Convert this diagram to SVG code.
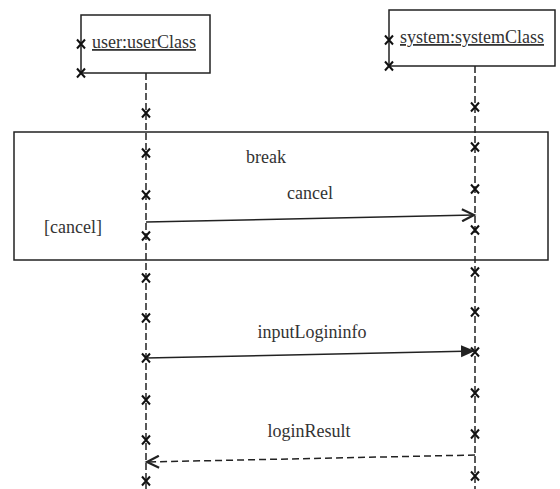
<svg xmlns="http://www.w3.org/2000/svg" xmlns:xlink="http://www.w3.org/1999/xlink" width="560" height="489" viewBox="0 0 560 489">
<style>
.box{fill:#fff;stroke:#222;stroke-width:1.5}
.frag{fill:none;stroke:#222;stroke-width:1.5}
.life{stroke:#222;stroke-width:1.5;stroke-dasharray:7,3;fill:none}
.msg{stroke:#222;stroke-width:1.5;fill:none}
.ret{stroke:#222;stroke-width:1.5;fill:none;stroke-dasharray:7,4}
.t{font-family:"Liberation Serif","Times New Roman","DejaVu Serif",serif;font-size:18px;fill:#333}
.cross{stroke:#111;stroke-width:2;fill:none}
</style>
<defs>
<path id="x" class="cross" d="M-4,-4.5 L4,4.5 M-4,4.5 L4,-4.5"/>
<marker id="open" markerUnits="userSpaceOnUse" markerWidth="16" markerHeight="14" refX="13" refY="7" orient="auto">
<path d="M1,1 L13,7 L1,13" fill="none" stroke="#222" stroke-width="2.2"/>
</marker>
<marker id="filled" markerUnits="userSpaceOnUse" markerWidth="16" markerHeight="14" refX="14" refY="6" orient="auto">
<path d="M0,0 L14,6 L0,12 Z" fill="#222"/>
</marker>
</defs>
<g id="fragment">
<rect class="frag" x="14" y="132" width="534" height="128"/>
<text class="t" x="246" y="163">break</text>
<text class="t" x="44" y="233">[cancel]</text>
</g>
<g id="user">
<rect class="box" x="81" y="15" width="129" height="58"/>
<text class="t" x="92" y="48" text-decoration="underline">user:userClass</text>
<line class="life" x1="146" y1="73" x2="146" y2="489"/>
<use xlink:href="#x" x="81" y="44"/>
<use xlink:href="#x" x="81" y="73"/>
<use xlink:href="#x" x="146" y="113"/>
<use xlink:href="#x" x="146" y="153"/>
<use xlink:href="#x" x="146" y="195"/>
<use xlink:href="#x" x="146" y="236"/>
<use xlink:href="#x" x="146" y="278"/>
<use xlink:href="#x" x="146" y="318"/>
<use xlink:href="#x" x="146" y="358"/>
<use xlink:href="#x" x="146" y="400"/>
<use xlink:href="#x" x="146" y="440"/>
<use xlink:href="#x" x="146" y="481"/>
</g>
<g id="system">
<rect class="box" x="389" y="10" width="166" height="56"/>
<text class="t" x="400" y="43" text-decoration="underline">system:systemClass</text>
<line class="life" x1="475" y1="66" x2="475" y2="489"/>
<use xlink:href="#x" x="389" y="40"/>
<use xlink:href="#x" x="389" y="66"/>
<use xlink:href="#x" x="475" y="107"/>
<use xlink:href="#x" x="475" y="147"/>
<use xlink:href="#x" x="475" y="189"/>
<use xlink:href="#x" x="475" y="230"/>
<use xlink:href="#x" x="475" y="272"/>
<use xlink:href="#x" x="475" y="312"/>
<use xlink:href="#x" x="475" y="352"/>
<use xlink:href="#x" x="475" y="393"/>
<use xlink:href="#x" x="475" y="434"/>
<use xlink:href="#x" x="475" y="476"/>
</g>
<g id="connectors">
<line class="msg" x1="146" y1="222" x2="474" y2="215" marker-end="url(#open)"/>
<text class="t" x="310" y="199" text-anchor="middle">cancel</text>
<line class="msg" x1="146" y1="358" x2="475" y2="351" marker-end="url(#filled)"/>
<text class="t" x="312" y="338" text-anchor="middle">inputLogininfo</text>
<line class="ret" x1="475" y1="455" x2="147" y2="462" marker-end="url(#open)"/>
<text class="t" x="309" y="437" text-anchor="middle">loginResult</text>
</g>
</svg>
